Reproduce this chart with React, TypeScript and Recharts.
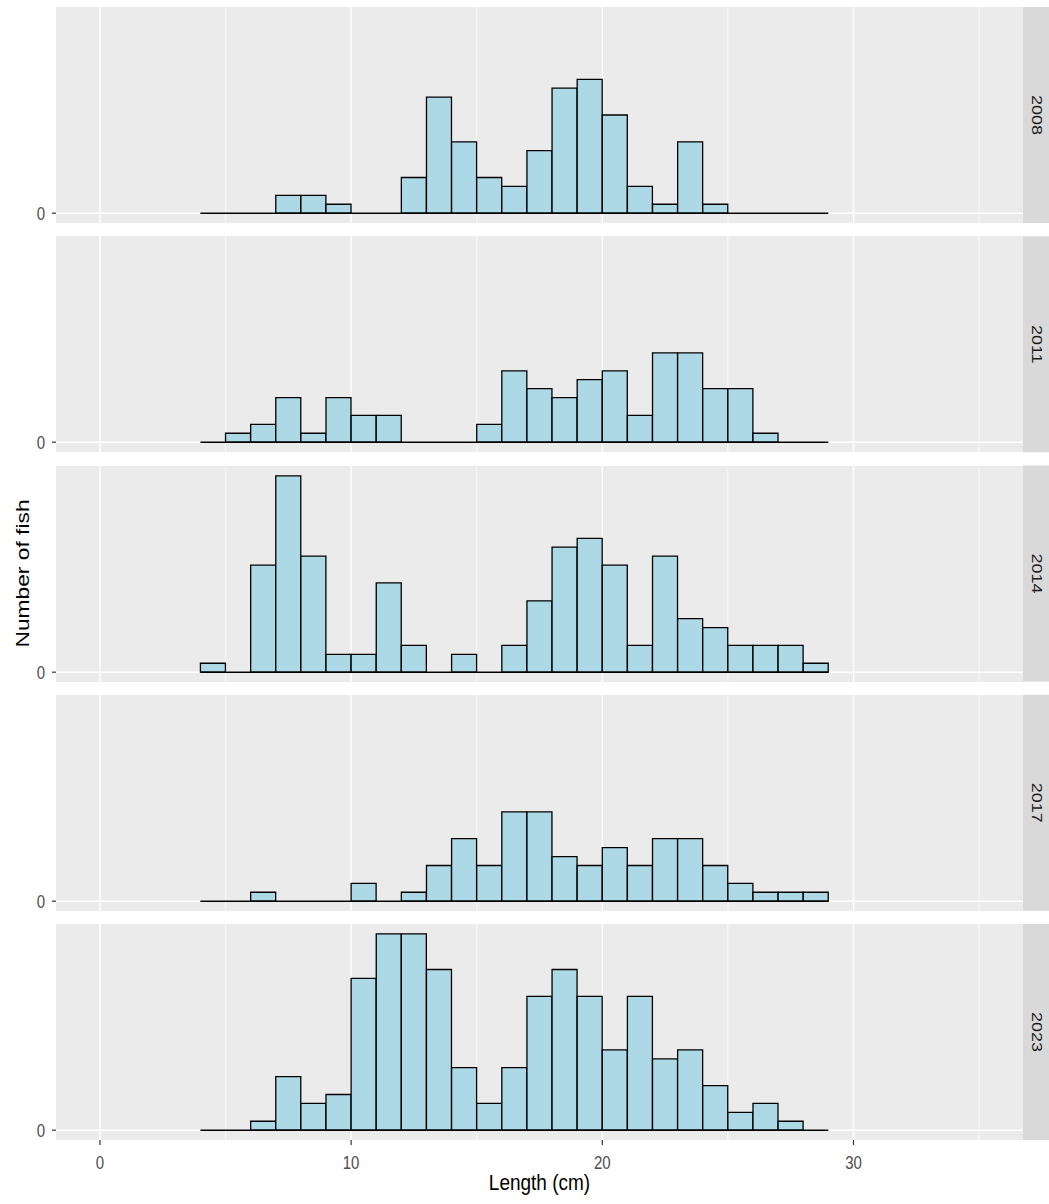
import React from 'react';
import { BarChart, Bar, XAxis, YAxis, CartesianGrid, ReferenceLine } from 'recharts';

// length bins: 1 cm wide, starting at 4 cm
const BIN_START = 4;
const BIN_WIDTH = 1;

const YEARS = ['2008', '2011', '2014', '2017', '2023'];

// counts per bin, 4-5 cm ... 28-29 cm
const COUNTS_2008 = [0, 0, 0, 2, 2, 1, 0, 0, 4, 13, 8, 4, 3, 7, 14, 15, 11, 3, 1, 8, 1, 0, 0, 0, 0];
const COUNTS_2011 = [0, 1, 2, 5, 1, 5, 3, 3, 0, 0, 0, 2, 8, 6, 5, 7, 8, 3, 10, 10, 6, 6, 1, 0, 0];
const COUNTS_2014 = [1, 0, 12, 22, 13, 2, 2, 10, 3, 0, 2, 0, 3, 8, 14, 15, 12, 3, 13, 6, 5, 3, 3, 3, 1];
const COUNTS_2017 = [0, 0, 1, 0, 0, 0, 2, 0, 1, 4, 7, 4, 10, 10, 5, 4, 6, 4, 7, 7, 4, 2, 1, 1, 1];
const COUNTS_2023 = [0, 0, 1, 6, 3, 4, 17, 22, 22, 18, 7, 3, 7, 15, 18, 15, 9, 15, 8, 9, 5, 2, 3, 1, 0];

const ALL_COUNTS = [COUNTS_2008, COUNTS_2011, COUNTS_2014, COUNTS_2017, COUNTS_2023];

const X_TICKS = [0, 10, 20, 30];
const X_MINOR = [5, 15, 25, 35];
const Y_TICKS = [0];

// 0..35 with ggplot's 5% padding
const X_DOMAIN = [-1.75, 36.75];
const Y_DOMAIN = [-1.1, 23.1];

// layout
const W = 1049;
const H = 1204;
const PLOT_LEFT = 56;
const PLOT_RIGHT = 1023;
const FIRST_TOP = 7;
const PANEL_H = 216;
const PANEL_STEP = 229.25;
const X_AXIS_H = 64;
const STRETCH = 1.2;

const FONT = '"Liberation Sans", Arial, sans-serif';
const PANEL_BG = '#EBEBEB';
const STRIP_BG = '#D9D9D9';
const BAR_FILL = '#ADD8E6';

const toBins = (counts: number[]) =>
  counts.map((n, i) => ({ mid: BIN_START + (i + 0.5) * BIN_WIDTH, count: n }));

const XTick = (props: any) => {
  const { x, y, payload } = props;
  return (
    <text
      transform={`translate(${x},${y}) scale(1,${STRETCH})`}
      y={18.7}
      textAnchor="middle"
      fontSize={15}
      fontFamily={FONT}
      fill="#4D4D4D"
    >
      {payload.value}
    </text>
  );
};

const YTick = (props: any) => {
  const { x, y, payload } = props;
  return (
    <text
      transform={`translate(${x},${y}) scale(1,${STRETCH})`}
      y={5.3}
      textAnchor="end"
      fontSize={15}
      fontFamily={FONT}
      fill="#4D4D4D"
    >
      {payload.value}
    </text>
  );
};

interface PanelProps {
  counts: number[];
  top: number;
  showX: boolean;
}

function Panel({ counts, top, showX }: PanelProps) {
  const data = toBins(counts);
  const binEnd = BIN_START + counts.length * BIN_WIDTH;
  return (
    <div style={{ position: 'absolute', left: 0, top }}>
      <BarChart
        width={PLOT_RIGHT}
        height={PANEL_H + (showX ? X_AXIS_H : 0)}
        data={data}
        margin={{ top: 0, right: 0, bottom: 0, left: 0 }}
        barCategoryGap={0}
        barGap={0}
      >
        <CartesianGrid
          fill={PANEL_BG}
          stroke="#FFFFFF"
          strokeWidth={1.4}
          verticalValues={X_TICKS}
          horizontalValues={Y_TICKS}
        />
        <CartesianGrid
          fill="none"
          stroke="#FFFFFF"
          strokeWidth={0.7}
          verticalValues={X_MINOR}
          horizontal={false}
        />
        <XAxis
          type="number"
          dataKey="mid"
          domain={X_DOMAIN}
          ticks={X_TICKS}
          interval={0}
          allowDataOverflow
          hide={!showX}
          height={X_AXIS_H}
          axisLine={false}
          tickLine={{ stroke: '#333333', strokeWidth: 1.2 }}
          tickSize={5}
          tick={(p: any) => <XTick {...p} />}
        />
        <YAxis
          type="number"
          domain={Y_DOMAIN}
          ticks={Y_TICKS}
          interval={0}
          allowDataOverflow
          width={PLOT_LEFT}
          axisLine={false}
          tickLine={{ stroke: '#333333', strokeWidth: 1.2 }}
          tickSize={4}
          tickMargin={7}
          tick={(p: any) => <YTick {...p} />}
        />
        <ReferenceLine
          segment={[{ x: BIN_START, y: 0 }, { x: binEnd, y: 0 }]}
          stroke="#000000"
          strokeWidth={1.6}
        />
        <Bar
          dataKey="count"
          fill={BAR_FILL}
          stroke="#000000"
          strokeWidth={1.3}
          isAnimationActive={false}
        />
      </BarChart>
    </div>
  );
}

export default function App() {
  const tops = YEARS.map((_, i) => FIRST_TOP + i * PANEL_STEP);
  const plotMidY = (FIRST_TOP + tops[tops.length - 1] + PANEL_H) / 2;
  return (
    <div style={{ position: 'absolute', left: 0, top: 0, width: W, height: H, background: '#FFFFFF', overflow: 'hidden' }}>
      <svg width={W} height={H} style={{ position: 'absolute', left: 0, top: 0 }}>
        {YEARS.map((year, i) => (
          <g key={year}>
            <rect x={PLOT_RIGHT} y={tops[i]} width={W - PLOT_RIGHT} height={PANEL_H} fill={STRIP_BG} />
            <text
              transform={`translate(1032,${tops[i] + PANEL_H / 2}) rotate(90) scale(${STRETCH},1)`}
              textAnchor="middle"
              fontSize={15}
              fontFamily={FONT}
              fill="#1A1A1A"
            >
              {year}
            </text>
          </g>
        ))}
        <text
          transform={`translate(29,${plotMidY}) rotate(-90) scale(${STRETCH},1)`}
          textAnchor="middle"
          fontSize={19}
          fontFamily={FONT}
          fill="#000000"
        >
          Number of fish
        </text>
        <text
          transform={`translate(${(PLOT_LEFT + PLOT_RIGHT) / 2},1190) scale(1,${STRETCH})`}
          textAnchor="middle"
          fontSize={19}
          fontFamily={FONT}
          fill="#000000"
        >
          Length (cm)
        </text>
      </svg>
      {ALL_COUNTS.map((counts, i) => (
        <Panel key={YEARS[i]} counts={counts} top={tops[i]} showX={i === YEARS.length - 1} />
      ))}
    </div>
  );
}
